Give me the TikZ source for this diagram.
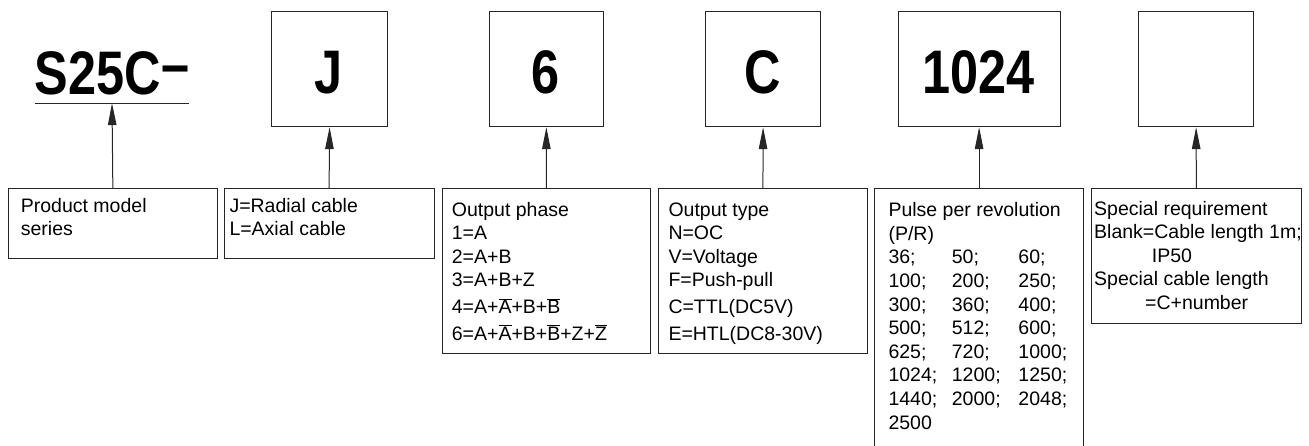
\documentclass[tikz,border=0pt]{standalone}
\usepackage{fontspec}
\setmainfont{Liberation Sans}
\newfontfamily\bigfont[FakeStretch=0.82]{Liberation Sans}
\usetikzlibrary{arrows.meta}
\newcommand\ovl[1]{$\overline{\mbox{#1}}$}
\newcommand\prow[3]{\makebox[63.4pt][l]{#1}\makebox[66.6pt][l]{#2}#3}
\tikzset{
  box/.style={draw=black!85, line width=1.2pt, inner sep=0pt, anchor=north west},
  conn/.style={draw=black!85, line width=1pt, -{Triangle[length=22pt,width=8.5pt]}},
  lbl/.style={inner sep=0pt, anchor=base west, font=\fontsize{19.5}{23.6}\selectfont},
  big/.style={inner sep=0pt, anchor=base, font=\bigfont\bfseries\fontsize{61.5}{61.5}\selectfont}
}
\begin{document}
\begin{tikzpicture}[x=1pt,y=-1pt]
\useasboundingbox (0,0) rectangle (1309,445);
% top row
\node[big, minimum width=154pt, text depth=9pt] (s25c) at (112,94) {S25C\raisebox{9pt}{–}};
\draw[black!85, line width=1.1pt] (s25c.south west) -- (s25c.south east);
\node[box, minimum width=116pt, minimum height=115pt] (t2) at (271,11) {};
\node[big] (t2txt) at (329,93) {J};
\node[box, minimum width=114.5pt, minimum height=115pt] (t3) at (488.5,11) {};
\node[big] (t3txt) at (545.75,93) {6};
\node[box, minimum width=115pt, minimum height=115pt] (t4) at (705,11) {};
\node[big] (t4txt) at (762.5,93) {C};
\node[box, minimum width=162pt, minimum height=115pt] (t5) at (897.5,11) {};
\node[big] (t5txt) at (978.5,93) {1024};
\node[box, minimum width=115pt, minimum height=115pt] (t6) at (1138,11) {};
% bottom row
\node[box, minimum width=209.5pt, minimum height=69.5pt] (b1) at (7.5,188) {};
\node[box, minimum width=210pt, minimum height=69.5pt] (b2) at (223.5,188) {};
\node[box, minimum width=208.3pt, minimum height=165pt] (b3) at (441.7,188) {};
\node[box, minimum width=208.7pt, minimum height=165pt] (b4) at (658,188) {};
\node[box, minimum width=209pt, minimum height=270pt] (b5) at (874,188) {};
\node[box, minimum width=209.5pt, minimum height=134.5pt] (b6) at (1091,188) {};
% texts
\node[lbl] (l1) at (20.7,212.3) {\parbox[t]{200pt}{\raggedright Product model\\series}};
\node[lbl] (l2) at (229.3,212.3) {\parbox[t]{200pt}{\raggedright J=Radial cable\\L=Axial cable}};
\node[lbl] (l3) at (451.7,216) {\parbox[t]{200pt}{\raggedright Output phase\\1=A\\2=A+B\\3=A+B+Z\\[3.2pt]4=A+\ovl{A}+B+\ovl{B}\\[3pt]6=A+\ovl{A}+B+\ovl{B}+Z+\ovl{Z}}};
\node[lbl] (l4) at (668.3,216) {\parbox[t]{200pt}{\raggedright Output type\\N=OC\\V=Voltage\\F=Push-pull\\[3.2pt]C=TTL(DC5V)\\[3pt]E=HTL(DC8-30V)}};
\node[lbl] (l5) at (888.3,216.7) {\parbox[t]{200pt}{\raggedright Pulse per revolution\\(P/R)\\
\prow{36;}{50;}{60;}\\
\prow{100;}{200;}{250;}\\
\prow{300;}{360;}{400;}\\
\prow{500;}{512;}{600;}\\
\prow{625;}{720;}{1000;}\\
\prow{1024;}{1200;}{1250;}\\
\prow{1440;}{2000;}{2048;}\\
2500}};
\node[lbl] (l6) at (1094,215) {\parbox[t]{230pt}{\raggedright Special requirement\\Blank=Cable length 1m;\\\hspace*{57.7pt}IP50\\Special cable length\\\hspace*{51pt}=C+number}};
% connectors
\draw[conn] (b1.north) -- (s25c.south);
\draw[conn] (b2.north) -- (t2.south);
\draw[conn] (b3.north) -- (t3.south);
\draw[conn] (b4.north) -- (t4.south);
\draw[conn] (b5.north) -- (t5.south);
\draw[conn] (b6.north) -- (t6.south);
\end{tikzpicture}
\end{document}
